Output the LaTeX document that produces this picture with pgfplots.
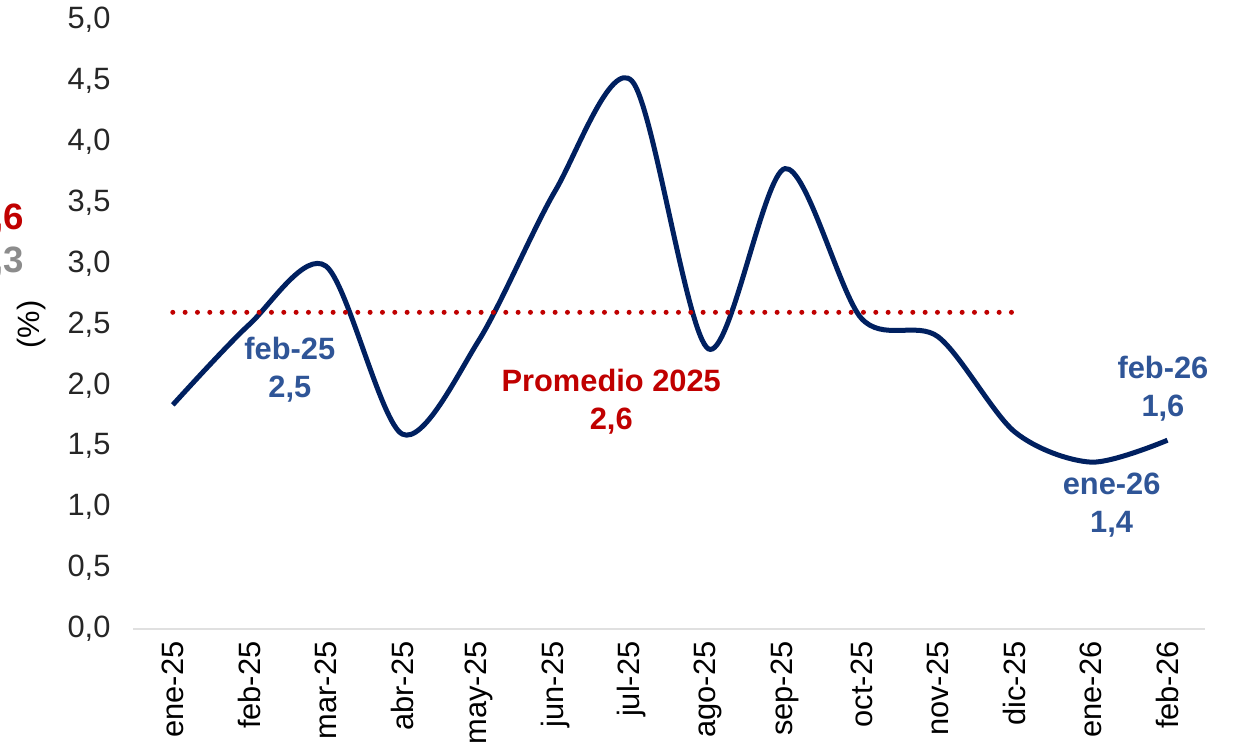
\documentclass[border=0pt]{standalone}
\usepackage{pgfplots}
\pgfplotsset{compat=1.18}
\usepackage{fontspec}
\setmainfont{Liberation Sans}
\definecolor{navy}{HTML}{002060}
\definecolor{lblue}{HTML}{2F5597}
\definecolor{dred}{HTML}{C00000}
\definecolor{gr}{HTML}{8C8C8C}
\begin{document}
\begin{tikzpicture}
\begin{axis}[
  scale only axis,
  width=643.2pt, height=365.4pt,
  xmin=-0.52, xmax=13.49,
  ymin=0, ymax=5,
  ytick={0,0.5,...,5.0},
  xtick={0,...,13},
  xticklabels={ene-25,feb-25,mar-25,abr-25,may-25,jun-25,jul-25,ago-25,sep-25,oct-25,nov-25,dic-25,ene-26,feb-26},
  x tick label style={rotate=90, anchor=east, font=\fontsize{18.5}{22}\selectfont},
  xticklabel shift=4pt,
  y tick label style={font=\fontsize{18.5}{22}\selectfont, color=black!85},
  yticklabel shift=10pt,
  /pgf/number format/.cd, fixed, fixed zerofill, precision=1, use comma, assume math mode=true,
  /pgfplots/.cd,
  axis x line*=bottom,
  axis y line*=left,
  x axis line style={draw=black!12, line width=1.2pt, -},
  y axis line style={draw=none},
  major tick length=0pt,
  tick style={draw=none},
  clip=false,
]
\addplot[navy, line width=3pt, smooth, tension=0.5] coordinates {
(0,1.84) (1,2.5) (2,2.98) (3,1.6) (4,2.37) (5,3.6) (6,4.5) (7,2.3) (8,3.78) (9,2.55) (10,2.4) (11,1.62) (12,1.37) (13,1.55)
};
\addplot[dred, line width=3pt, line cap=round, dash pattern=on 0pt off 7.4pt] coordinates {(0,2.6) (11,2.6)};
\node[font=\fontsize{18.5}{22.8}\selectfont\bfseries, text=lblue, align=center, inner sep=0pt] at (axis cs:1.53,2.13) {feb-25\\2,5};
\node[font=\fontsize{18.5}{22.8}\selectfont\bfseries, text=dred, align=center, inner sep=0pt] at (axis cs:5.73,1.87) {Promedio 2025\\2,6};
\node[font=\fontsize{18.5}{22.8}\selectfont\bfseries, text=lblue, align=center, inner sep=0pt] at (axis cs:12.94,1.97) {feb-26\\1,6};
\node[font=\fontsize{18.5}{22.8}\selectfont\bfseries, text=lblue, align=center, inner sep=0pt] at (axis cs:12.27,1.02) {ene-26\\1,4};
\node[font=\fontsize{18.5}{22}\selectfont, rotate=90, inner sep=0pt] at ([xshift=-60.6pt]rel axis cs:0,0.5) {(\%)};
\node[font=\fontsize{22}{26}\selectfont\bfseries, text=dred, anchor=east, inner sep=0pt] at ([xshift=-65pt]axis cs:-0.52,3.36) {2,6};
\node[font=\fontsize{22}{26}\selectfont\bfseries, text=gr, anchor=east, inner sep=0pt] at ([xshift=-65pt]axis cs:-0.52,3.01) {2,3};
\end{axis}
\pgfresetboundingbox
\path (-79.8pt,-75pt) rectangle (666pt,377.4pt);
\end{tikzpicture}
\end{document}
